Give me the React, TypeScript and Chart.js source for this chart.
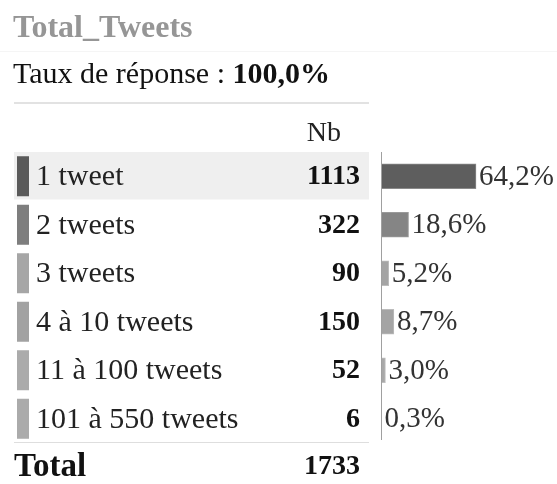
import React, { useEffect, useRef } from "react";
import { Chart, registerables } from "chart.js";

Chart.register(...registerables);

const categories = ["1 tweet", "2 tweets", "3 tweets", "4 à 10 tweets", "11 à 100 tweets", "101 à 550 tweets"];
const counts = [1113, 322, 90, 150, 52, 6];
const percents = [64.2, 18.6, 5.2, 8.7, 3.0, 0.3];
const totalCount = 1733;
const title = "Total_Tweets";
const subtitleLabel = "Taux de réponse : ";
const subtitleValue = "100,0%";
const headerLabel = "Nb";
const totalLabel = "Total";

const markerColors = ["#5a5a5a", "#7e7e7e", "#a6a6a6", "#a2a2a2", "#ababab", "#ababab"];
const barFill = ["#5e5e5e", "#858585", "#a4a4a4", "#a4a4a4", "#a8a8a8", "#a8a8a8"];
const barBorder = ["#8a8a8a", "#9a9a9a", "#bcbcbc", "#bcbcbc", "#c0c0c0", "#c0c0c0"];

const FONT = '"Liberation Serif", "Times New Roman", serif';

function fmtPct(v: number) {
  return v.toFixed(1).replace(".", ",") + "%";
}

const tablePlugin = {
  id: "tablePlugin",
  beforeDatasetsDraw(chart: any) {
    const ctx = chart.ctx;
    const y = chart.scales.y;
    const pitch = y.getPixelForValue(1) - y.getPixelForValue(0);
    const c0 = y.getPixelForValue(0);
    ctx.save();
    ctx.fillStyle = "#efefef";
    ctx.fillRect(14, c0 - pitch / 2, 355, pitch - 1);
    ctx.restore();
  },
  afterDraw(chart: any) {
    const ctx = chart.ctx;
    const area = chart.chartArea;
    const y = chart.scales.y;
    const x = chart.scales.x;
    const pitch = y.getPixelForValue(1) - y.getPixelForValue(0);
    ctx.save();
    ctx.textBaseline = "alphabetic";
    ctx.textAlign = "left";
    ctx.fillStyle = "#969696";
    ctx.font = `bold 32px ${FONT}`;
    ctx.fillText(title, 13, 37);
    ctx.fillStyle = "#f5f5f5";
    ctx.fillRect(0, 51, 557, 1);
    ctx.fillStyle = "#111";
    ctx.font = `30px ${FONT}`;
    ctx.fillText(subtitleLabel, 13, 83);
    const w = ctx.measureText(subtitleLabel).width;
    ctx.font = `bold 30px ${FONT}`;
    ctx.fillText(subtitleValue, 13 + w, 83);
    ctx.fillStyle = "#e2e2e2";
    ctx.fillRect(14, 102, 355, 2);
    ctx.fillStyle = "#222";
    ctx.font = `28px ${FONT}`;
    ctx.textAlign = "right";
    ctx.fillText(headerLabel, 341, 141);

    categories.forEach((cat, i) => {
      const cy = y.getPixelForValue(i);
      ctx.fillStyle = markerColors[i];
      ctx.fillRect(17, cy - 20, 12, 40);
      ctx.textBaseline = "middle";
      ctx.textAlign = "left";
      ctx.fillStyle = "#222";
      ctx.font = `30px ${FONT}`;
      ctx.fillText(cat, 36, cy + 1);
      ctx.textAlign = "right";
      ctx.fillStyle = "#111";
      ctx.font = `bold 28px ${FONT}`;
      ctx.fillText(String(counts[i]), 360, cy + 1);
      ctx.textAlign = "left";
      ctx.fillStyle = "#333";
      ctx.font = `29px ${FONT}`;
      const xe = x.getPixelForValue(percents[i]);
      ctx.fillText(fmtPct(percents[i]), xe + 3, cy + 1);
    });

    ctx.fillStyle = "#a0a0a0";
    ctx.fillRect(area.left, area.top, 1, area.bottom - area.top - 3);

    const lastC = y.getPixelForValue(categories.length - 1);
    ctx.fillStyle = "#dedede";
    ctx.fillRect(14, lastC + pitch / 2 - 1, 355, 1);
    const ty = lastC + pitch;
    ctx.textBaseline = "middle";
    ctx.textAlign = "left";
    ctx.fillStyle = "#111";
    ctx.font = `bold 33px ${FONT}`;
    ctx.fillText(totalLabel, 14, ty);
    ctx.textAlign = "right";
    ctx.font = `bold 28px ${FONT}`;
    ctx.fillText(String(totalCount), 360, ty);
    ctx.restore();
  },
};

export default function App() {
  const ref = useRef<HTMLCanvasElement>(null);
  useEffect(() => {
    if (!ref.current) return;
    const chart = new Chart(ref.current, {
      type: "bar",
      data: {
        labels: categories,
        datasets: [
          {
            data: percents,
            backgroundColor: barFill,
            borderColor: barBorder,
            borderWidth: 1,
            borderSkipped: "left",
            barThickness: 25,
          },
        ],
      },
      options: {
        indexAxis: "y",
        animation: false,
        responsive: false,
        maintainAspectRatio: false,
        layout: { padding: { left: 381, right: 28, top: 152, bottom: 41 } },
        scales: {
          x: { type: "linear", min: 0, max: 100, display: false },
          y: { type: "category", display: false, offset: true },
        },
        plugins: { legend: { display: false }, tooltip: { enabled: false }, title: { display: false } },
      },
      plugins: [tablePlugin],
    });
    return () => chart.destroy();
  }, []);
  return (
    <div style={{ position: "absolute", left: 0, top: 0, width: 557, height: 484, background: "#fff" }}>
      <canvas ref={ref} width={557} height={484} style={{ width: 557, height: 484, display: "block" }} />
    </div>
  );
}
